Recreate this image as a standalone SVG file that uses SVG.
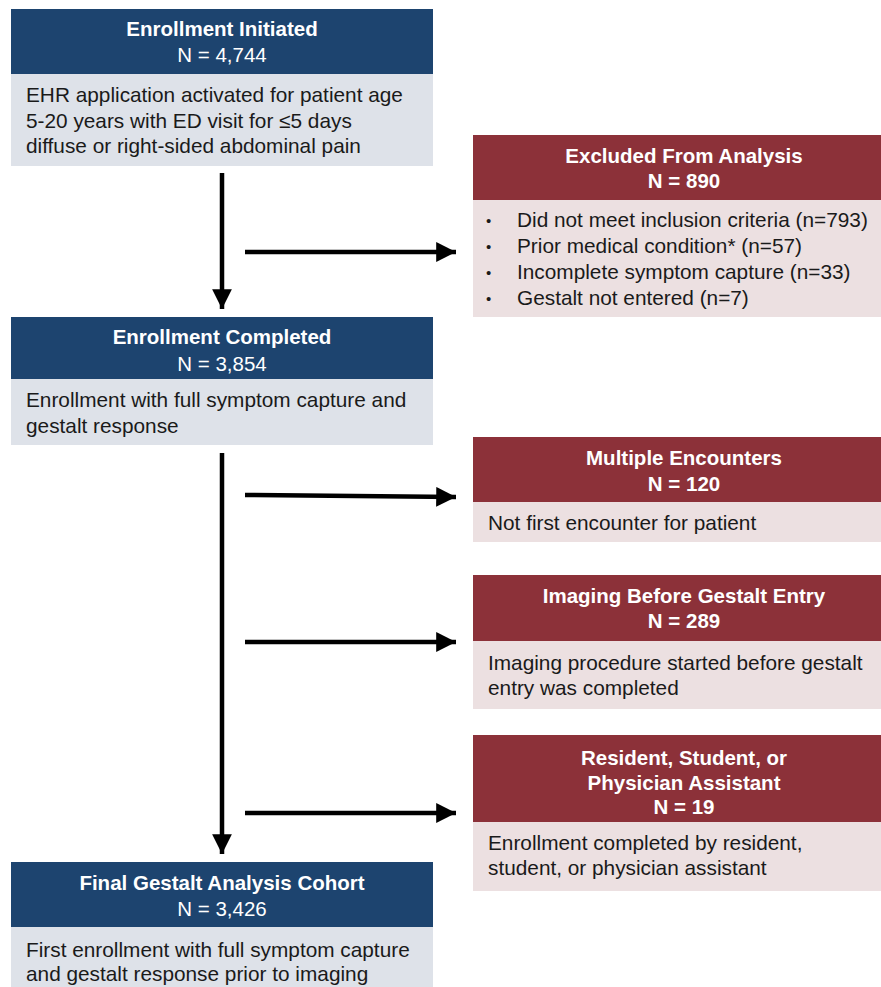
<svg xmlns="http://www.w3.org/2000/svg" width="881" height="987" viewBox="0 0 881 987">
<defs>
<style>
.bh{fill:#1d446f}
.bb{fill:#dee2e9}
.rh{fill:#8c3139}
.rb{fill:#ece0e1}
text{font-family:"Liberation Sans",Arial,sans-serif;font-size:20.8px}
.t{fill:#ffffff;text-anchor:middle;font-size:20.5px}
.b{font-weight:bold}
.d{fill:#1a1a1a}
.u{font-size:15px}
.c{stroke:#000;stroke-width:4.5;fill:none}
</style>
<marker id="ah" viewBox="0 0 10 10" refX="10" refY="5" markerWidth="4.4" markerHeight="4.4" markerUnits="strokeWidth" orient="auto">
<path d="M0,0 L10,5 L0,10 Z" fill="#000"/>
</marker>
</defs>
<rect width="881" height="987" fill="#ffffff"/>

<g id="n1">
<rect class="bh" x="11" y="9" width="422" height="65"/>
<rect class="bb" x="11" y="74" width="422" height="92"/>
<text class="t b" x="222" y="36">Enrollment Initiated</text>
<text class="t" x="222" y="62">N = 4,744</text>
<text class="d" x="26" y="102">EHR application activated for patient age</text>
<text class="d" x="26" y="128">5-20 years with ED visit for ≤5 days</text>
<text class="d" x="26" y="153">diffuse or right-sided abdominal pain</text>
</g>

<g id="n2">
<rect class="bh" x="11" y="317" width="422" height="62"/>
<rect class="bb" x="11" y="379" width="422" height="66"/>
<text class="t b" x="222" y="344">Enrollment Completed</text>
<text class="t" x="222" y="371">N = 3,854</text>
<text class="d" x="26" y="407">Enrollment with full symptom capture and</text>
<text class="d" x="26" y="433">gestalt response</text>
</g>

<g id="n3">
<rect class="bh" x="11" y="862" width="422" height="65"/>
<rect class="bb" x="11" y="927" width="422" height="60"/>
<text class="t b" x="222" y="890">Final Gestalt Analysis Cohort</text>
<text class="t" x="222" y="916">N = 3,426</text>
<text class="d" x="26" y="957">First enrollment with full symptom capture</text>
<text class="d" x="26" y="981">and gestalt response prior to imaging</text>
</g>

<g id="x1">
<rect class="rh" x="473" y="135" width="408" height="65"/>
<rect class="rb" x="473" y="200" width="408" height="117"/>
<text class="t b" x="684" y="163">Excluded From Analysis</text>
<text class="t b" x="684" y="188">N = 890</text>
<text class="d u" x="486" y="226">•</text>
<text class="d" x="517" y="227">Did not meet inclusion criteria (n=793)</text>
<text class="d u" x="486" y="252">•</text>
<text class="d" x="517" y="253">Prior medical condition* (n=57)</text>
<text class="d u" x="486" y="278">•</text>
<text class="d" x="517" y="279">Incomplete symptom capture (n=33)</text>
<text class="d u" x="486" y="304">•</text>
<text class="d" x="517" y="305">Gestalt not entered (n=7)</text>
</g>

<g id="x2">
<rect class="rh" x="473" y="437" width="408" height="65"/>
<rect class="rb" x="473" y="502" width="408" height="40"/>
<text class="t b" x="684" y="465">Multiple Encounters</text>
<text class="t b" x="684" y="491">N = 120</text>
<text class="d" x="488" y="530">Not first encounter for patient</text>
</g>

<g id="x3">
<rect class="rh" x="473" y="575" width="408" height="66"/>
<rect class="rb" x="473" y="641" width="408" height="68"/>
<text class="t b" x="684" y="603">Imaging Before Gestalt Entry</text>
<text class="t b" x="684" y="628">N = 289</text>
<text class="d" x="488" y="670">Imaging procedure started before gestalt</text>
<text class="d" x="488" y="695">entry was completed</text>
</g>

<g id="x4">
<rect class="rh" x="473" y="735" width="408" height="87"/>
<rect class="rb" x="473" y="822" width="408" height="69"/>
<text class="t b" x="684" y="765">Resident, Student, or</text>
<text class="t b" x="684" y="790">Physician Assistant</text>
<text class="t b" x="684" y="814">N = 19</text>
<text class="d" x="488" y="850">Enrollment completed by resident,</text>
<text class="d" x="488" y="875">student, or physician assistant</text>
</g>

<g id="connectors">
<line class="c" x1="222" y1="173" x2="222" y2="309" marker-end="url(#ah)"/>
<line class="c" x1="245" y1="252" x2="456" y2="252" marker-end="url(#ah)"/>
<line class="c" x1="222" y1="453" x2="222" y2="854" marker-end="url(#ah)"/>
<line class="c" x1="245" y1="495" x2="456" y2="497" marker-end="url(#ah)"/>
<line class="c" x1="245" y1="642" x2="456" y2="642" marker-end="url(#ah)"/>
<line class="c" x1="245" y1="813" x2="456" y2="813" marker-end="url(#ah)"/>
</g>
</svg>
